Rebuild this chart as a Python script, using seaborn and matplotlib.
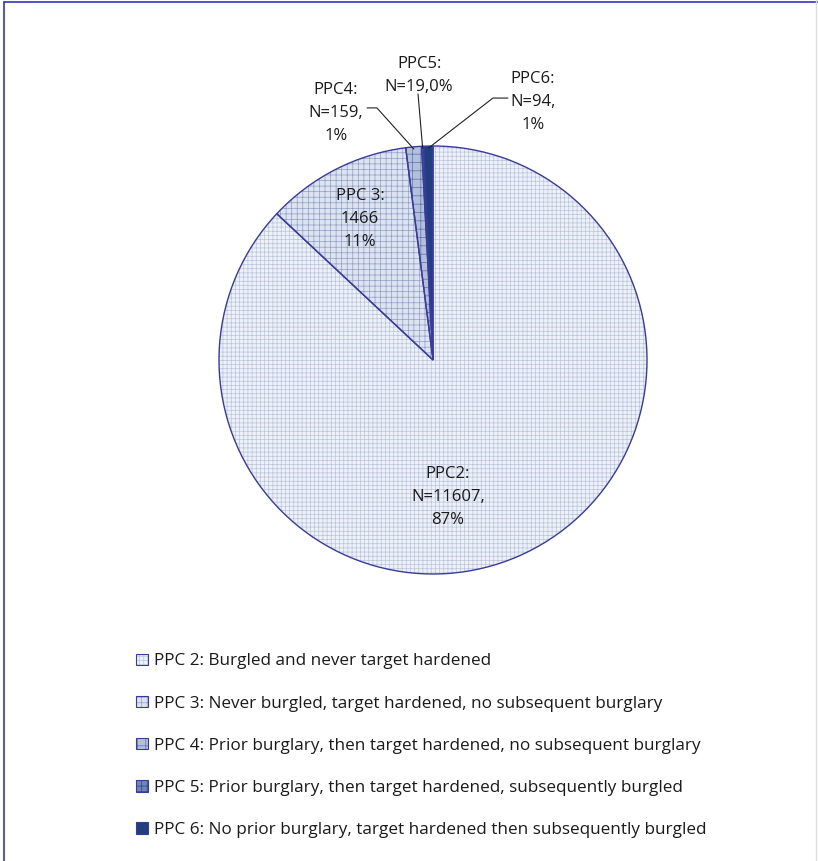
import numpy as np
import matplotlib
matplotlib.use('Agg')
import matplotlib.pyplot as plt
from matplotlib.lines import Line2D
from matplotlib.patches import Patch
import seaborn as sns

# data
groups = ["PPC 2", "PPC 3", "PPC 4", "PPC 5", "PPC 6"]
counts = [11607, 1466, 159, 19, 94]
slice_labels = ["PPC2:\nN=11607,\n87%", "PPC 3:\n1466\n11%", "PPC4:\nN=159,\n1%",
                "PPC5:\nN=19,0%", "PPC6:\nN=94,\n1%"]
legend_text = [
    "PPC 2: Burgled and never target hardened",
    "PPC 3: Never burgled, target hardened, no subsequent burglary",
    "PPC 4: Prior burglary, then target hardened, no subsequent burglary",
    "PPC 5: Prior burglary, then target hardened, subsequently burgled",
    "PPC 6: No prior burglary, target hardened then subsequently burgled",
]

faces = ["#eef1f7", "#dde3ef", "#b3c0dc", "#6f85bb", "#1f3f7f"]
hatch_cols = ["#b9c5dc", "#8e9fc7", "#5b70a6", "#2c467f", "#1f3f7f"]
hatches = ["++++", "+++", "++", "+++", ""]
edge = "#3a3a9e"

sns.set_theme(style="white")
plt.rcParams['font.family'] = ['Open Sans', 'DejaVu Sans']
plt.rcParams['hatch.linewidth'] = 0.5

fig = plt.figure(figsize=(8.18, 8.61), dpi=100)
R_px = 214
cx, cy = 433, 360
ax = fig.add_axes([(cx - R_px) / 818, 1 - (cy + R_px) / 861, 2 * R_px / 818, 2 * R_px / 861])

# hatched layer, then edge layer on top
wedges, _ = ax.pie(counts, startangle=90, counterclock=False, radius=1,
                   colors=faces, wedgeprops=dict(linewidth=0))
for w, h, hc in zip(wedges, hatches, hatch_cols):
    w.set_hatch(h)
    w.set_edgecolor(hc)
    w.set_linewidth(0)
edges, _ = ax.pie(counts, startangle=90, counterclock=False, radius=1,
                  wedgeprops=dict(facecolor='none', edgecolor=edge, linewidth=1.0))
ax.set_xlim(-1, 1)
ax.set_ylim(-1, 1)
ax.axis('off')

fs = 12
ls = 1.55
txt_col = "#1a1a1a"
# big slices: labels inside
ax.text(0.07, -0.64, slice_labels[0], ha='center', va='center', fontsize=fs,
        color=txt_col, linespacing=ls)
ax.text(-0.341, 0.659, slice_labels[1], ha='center', va='center', fontsize=fs,
        color=txt_col, linespacing=ls)

# small slices: labels outside with leader lines
def mid_point(w, r=0.99):
    a = np.deg2rad((w.theta1 + w.theta2) / 2)
    return r * np.cos(a), r * np.sin(a)

outside = [
    (2, (-0.453, 1.154), [(-0.308, 1.178), (-0.262, 1.178)]),
    (3, (-0.065, 1.33), [(-0.07, 1.243)]),
    (4, (0.467, 1.206), [(0.35, 1.224), (0.28, 1.224)]),
]
for i, pos, pts in outside:
    ax.text(pos[0], pos[1], slice_labels[i], ha='center', va='center', fontsize=fs,
            color=txt_col, linespacing=ls, clip_on=False)
    mx, my = mid_point(wedges[i])
    xs = [p[0] for p in pts] + [mx]
    ys = [p[1] for p in pts] + [my]
    ax.plot(xs, ys, color="#222222", lw=0.8, clip_on=False)

# legend
handles = []
for f, h, hc in zip(faces, hatches, hatch_cols):
    p1 = Patch(facecolor=f, hatch=h, edgecolor=hc, linewidth=0)
    p2 = Patch(facecolor='none', edgecolor=edge, linewidth=0.8)
    handles.append((p1, p2))
fig.legend(handles, legend_text, loc='upper left', bbox_to_anchor=(121 / 818, 1 - 638 / 861),
           frameon=False, fontsize=12.3, handlelength=0.66, handleheight=0.66,
           handletextpad=0.4, labelspacing=1.53, labelcolor=txt_col)

# frame around figure
fig.add_artist(Line2D([4 / 818, 1], [1 - 2 / 861, 1 - 2 / 861], color="#3535c0", lw=1.2,
                      transform=fig.transFigure))
fig.add_artist(Line2D([4 / 818, 4 / 818], [0, 1 - 2 / 861], color="#3535c0", lw=1.2,
                      transform=fig.transFigure))
fig.add_artist(Line2D([816 / 818, 816 / 818], [0, 1], color="#dddddd", lw=1.0,
                      transform=fig.transFigure))

fig.savefig("out.png", dpi=100)
